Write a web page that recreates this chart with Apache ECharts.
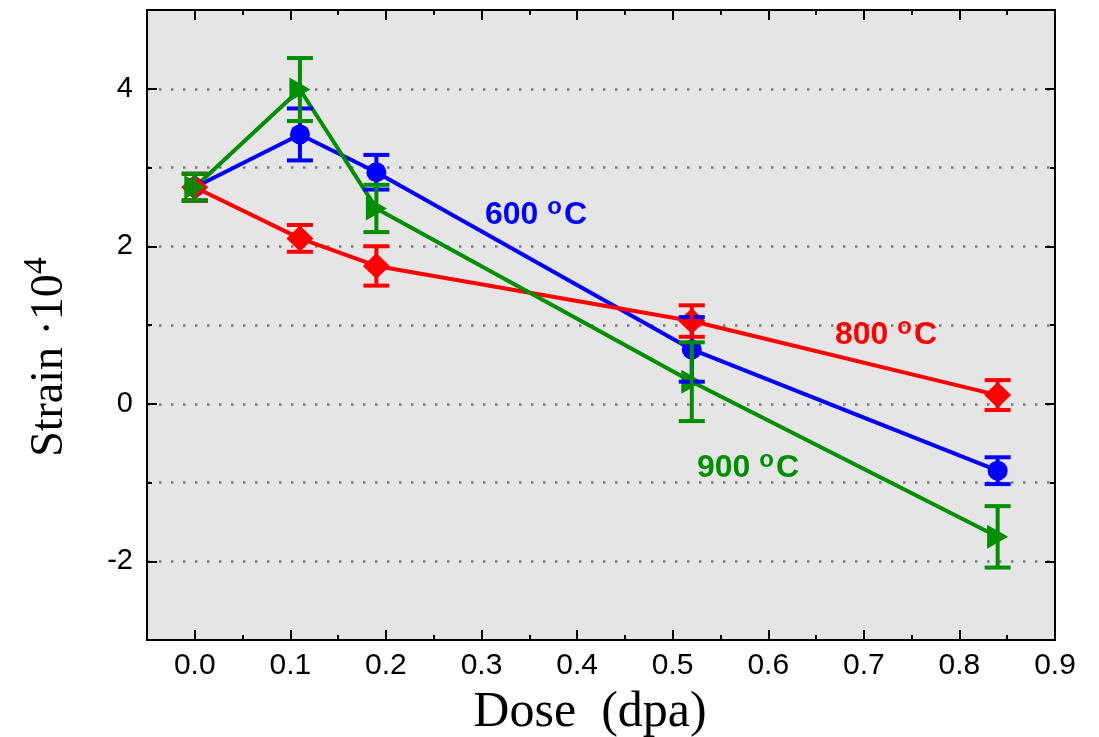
<!DOCTYPE html>
<html>
<head>
<meta charset="utf-8">
<title>Strain vs dose</title>
<script src="https://cdn.jsdelivr.net/npm/echarts@6/dist/echarts.min.js"></script>
<style>
  html, body { margin: 0; padding: 0; background: #fff; }
  #main { width: 1099px; height: 737px; }
</style>
</head>
<body>
<div id="main"></div>
<script>
// dose values (dpa)
var dose = [0, 0.11, 0.19, 0.52, 0.84];
// strain *10^4 and error half-widths
var s600 = [2.75, 3.42, 2.94, 0.69, -0.85];
var e600 = [0.17, 0.33, 0.22, 0.41, 0.17];
var s800 = [2.75, 2.10, 1.75, 1.05, 0.11];
var e800 = [0.17, 0.17, 0.25, 0.20, 0.19];
var s900 = [2.75, 3.99, 2.48, 0.28, -1.69];
var e900 = [0.17, 0.40, 0.30, 0.50, 0.39];
// ticks
var xMajor = [0, 0.1, 0.2, 0.3, 0.4, 0.5, 0.6, 0.7, 0.8, 0.9];
var xMinor = [0.05, 0.15, 0.25, 0.35, 0.45, 0.55, 0.65, 0.75, 0.85];
var yMajor = [-2, 0, 2, 4];
var yMinor = [-1, 1, 3];
var tempLabels = ['600', '800', '900'];

var BLUE = '#0000ff', RED = '#ff0000', GREEN = '#008f00';
var sans = '"Liberation Sans", Arial, sans-serif';
var serif = '"Liberation Serif", "Times New Roman", serif';

function pts(s) { return dose.map(function (d, i) { return [d, s[i]]; }); }
function errs(s, e) { return dose.map(function (d, i) { return [d, s[i] - e[i], s[i] + e[i]]; }); }

// 误差棒
function renderErr(params, api) {
  var x = api.value(0);
  var p1 = api.coord([x, api.value(2)]);
  var p2 = api.coord([x, api.value(1)]);
  var w = 13;
  var st = { stroke: api.visual('color'), lineWidth: 4 };
  return {
    type: 'group',
    children: [
      { type: 'line', shape: { x1: p1[0], y1: p1[1], x2: p2[0], y2: p2[1] }, style: st },
      { type: 'line', shape: { x1: p1[0] - w, y1: p1[1], x2: p1[0] + w, y2: p1[1] }, style: st },
      { type: 'line', shape: { x1: p2[0] - w, y1: p2[1], x2: p2[0] + w, y2: p2[1] }, style: st }
    ]
  };
}

function xAx(pos, values, len, withLine, withLabel) {
  return {
    type: 'value', position: pos, min: -0.05, max: 0.9,
    axisLine: { show: withLine, onZero: false, lineStyle: { color: '#000', width: 2 } },
    axisTick: { show: true, inside: true, length: len, customValues: values, lineStyle: { color: '#000', width: 2 } },
    axisLabel: {
      show: withLabel, customValues: values, margin: 11,
      fontFamily: sans, fontSize: 30, color: '#000',
      formatter: function (v) { return v.toFixed(1); }
    },
    splitLine: { show: false }
  };
}
function yAx(pos, values, len, withLine, withLabel) {
  return {
    type: 'value', position: pos, min: -3, max: 5,
    axisLine: { show: withLine, onZero: false, lineStyle: { color: '#000', width: 2 } },
    axisTick: { show: true, inside: true, length: len, customValues: values, lineStyle: { color: '#000', width: 2 } },
    axisLabel: {
      show: withLabel, customValues: values, margin: 14,
      fontFamily: sans, fontSize: 29, color: '#000'
    },
    splitLine: { show: false }
  };
}

var gridAxis = {
  type: 'value', position: 'left', min: -3, max: 5, interval: 1,
  axisLine: { show: false }, axisTick: { show: false }, axisLabel: { show: false },
  splitLine: { show: true, showMinLine: false, showMaxLine: false,
    lineStyle: { color: '#7a7a7a', width: 2.5, type: [2.5, 9.5] } }
};

function lineSeries(name, data, color, symbol, size, rot) {
  return {
    name: name, type: 'line', data: data,
    symbol: symbol, symbolSize: size, symbolRotate: rot || 0,
    showAllSymbol: true,
    lineStyle: { color: color, width: 4 },
    itemStyle: { color: color },
    z: 2
  };
}
function errSeries(data, color) {
  return {
    type: 'custom', renderItem: renderErr, data: data,
    encode: { x: 0, y: [1, 2] },
    itemStyle: { color: color },
    z: 4
  };
}

function tempText(txt, color, x, y) {
  return {
    type: 'text', x: x, y: y, z: 10,
    style: {
      text: '{a|' + txt + ' }{s|o}{a|C}',
      fill: color,
      align: 'left', verticalAlign: 'middle',
      rich: {
        a: { fontFamily: sans, fontSize: 32, lineHeight: 40, fontWeight: 'bold', fill: color },
        s: { fontFamily: sans, fontSize: 24, lineHeight: 16, fontWeight: 'bold', fill: color, verticalAlign: 'top', padding: [0, 2, 0, 0] }
      }
    }
  };
}

var option = {
  animation: false,
  backgroundColor: '#fff',
  grid: { left: 147, right: 44, top: 10, bottom: 97, show: true, backgroundColor: '#e5e5e5', borderWidth: 0 },
  xAxis: [
    xAx('bottom', xMajor, 10, true, true),
    xAx('bottom', xMinor, 5, false, false),
    xAx('top', xMajor, 10, true, false),
    xAx('top', xMinor, 5, false, false)
  ],
  yAxis: [
    yAx('left', yMajor, 10, true, true),
    yAx('left', yMinor, 5, false, false),
    yAx('right', yMajor, 10, true, false),
    yAx('right', yMinor, 5, false, false),
    gridAxis
  ],
  series: [
    lineSeries('600', pts(s600), BLUE, 'circle', 20),
    lineSeries('800', pts(s800), RED, 'diamond', [27, 26]),
    lineSeries('900', pts(s900), GREEN, 'triangle', [24, 21], -90),
    errSeries(errs(s600, e600), BLUE),
    errSeries(errs(s800, e800), RED),
    errSeries(errs(s900, e900), GREEN)
  ],
  graphic: [
    tempText(tempLabels[0], BLUE, 485, 215),
    tempText(tempLabels[1], RED, 835, 335),
    tempText(tempLabels[2], GREEN, 697, 468),
    {
      type: 'text', x: 590, y: 713,
      style: { text: 'Dose  (dpa)', fill: '#000', font: '50px ' + serif, align: 'center', verticalAlign: 'middle' }
    },
    {
      type: 'text', x: 50, y: 357, rotation: Math.PI / 2,
      style: {
        text: '{a|Strain ·10}{s|4}', fill: '#000', align: 'center', verticalAlign: 'middle',
        rich: {
          a: { fontFamily: serif, fontSize: 46, lineHeight: 60, fill: '#000' },
          s: { fontFamily: serif, fontSize: 34, lineHeight: 26, fill: '#000', verticalAlign: 'top' }
        }
      }
    }
  ]
};

var myChart = echarts.init(document.getElementById('main'));
myChart.setOption(option);
</script>
</body>
</html>
